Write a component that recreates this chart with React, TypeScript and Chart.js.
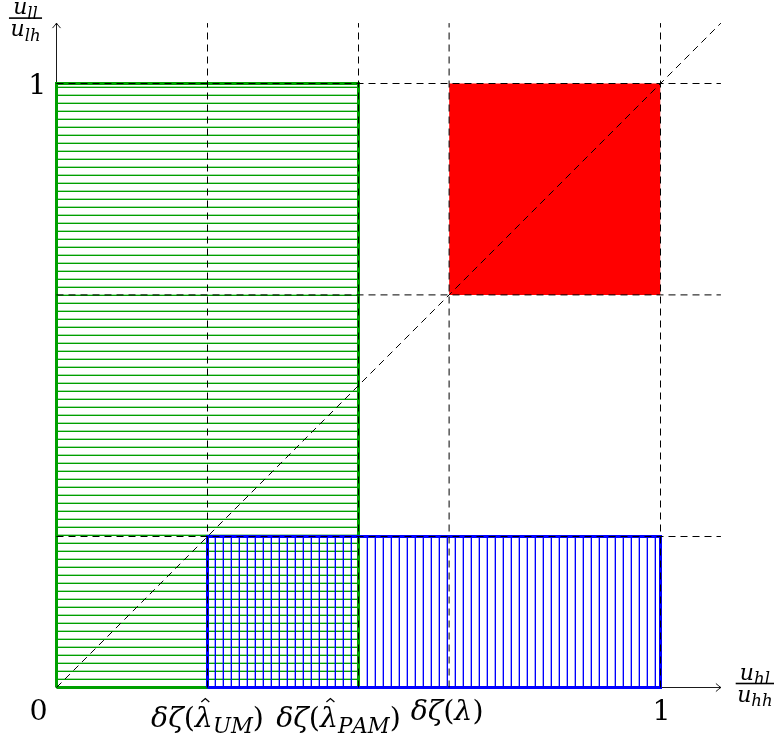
import React, { useEffect, useRef } from "react";
import { Chart, registerables } from "chart.js";

Chart.register(...registerables);

// ---- data ----
const X_MAX = 1.1;
const Y_MAX = 1.1;
const xGuides = [0.25, 0.5, 0.65, 1];
const yGuides = [0.25, 0.65, 1];
const diagonalX = [0, 1.1];
const diagonalY = [0, 1.1];
const greenX = [0, 0.5];
const greenY = [0, 1];
const blueX = [0.25, 1];
const blueY = [0, 0.25];
const redX = [0.65, 1];
const redY = [0.65, 1];
const xTickValues = [0, 0.25, 0.5, 0.65, 1];
const xTickLabels = ["0", "δζ(λ\u0302_UM)", "δζ(λ\u0302_PAM)", "δζ(λ)", "1"];
const yTickValues = [1];
const yTickLabels = ["1"];
const xTitle = ["u_hl", "u_hh"];
const yTitle = ["u_ll", "u_lh"];

// ---- style ----
const GREEN = "#00a000";
const BLUE = "#0000ff";
const RED = "#ff0000";
const FONT = "'DejaVu Serif', 'Liberation Serif', serif";
const BIG = 28.5;
const SMALL = 22;
const SUB = 0.75;
const xTickDx = [-18, 0, -20, -2, 1];

type Run = { text: string; italic: boolean; sub: boolean; hat: boolean };

function parse(s: string): Run[] {
  const runs: Run[] = [];
  let sub = false;
  for (let i = 0; i < s.length; i++) {
    const c = s[i];
    if (c === "_") {
      sub = true;
      continue;
    }
    if (c === "\u0302") {
      if (runs.length) runs[runs.length - 1].hat = true;
      continue;
    }
    const letter = /[A-Za-z\u0370-\u03ff]/.test(c);
    if (!letter) sub = false;
    runs.push({ text: c, italic: letter, sub, hat: false });
  }
  return runs;
}

function fontFor(r: Run, size: number) {
  const sz = r.sub ? size * SUB : size;
  return `${r.italic ? "italic " : ""}${sz}px ${FONT}`;
}

function measure(ctx: CanvasRenderingContext2D, runs: Run[], size: number) {
  let w = 0;
  for (const r of runs) {
    ctx.font = fontFor(r, size);
    w += ctx.measureText(r.text).width;
  }
  return w;
}

function drawRuns(
  ctx: CanvasRenderingContext2D,
  runs: Run[],
  left: number,
  baseline: number,
  size: number
) {
  let x = left;
  ctx.textAlign = "left";
  ctx.textBaseline = "alphabetic";
  for (const r of runs) {
    ctx.font = fontFor(r, size);
    const w = ctx.measureText(r.text).width;
    const by = r.sub ? baseline + size * 0.22 : baseline;
    ctx.fillText(r.text, x, by);
    if (r.hat) {
      const cx = x + w * 0.58;
      const top = by - size * 0.98;
      ctx.save();
      ctx.lineWidth = 1.3;
      ctx.strokeStyle = "#000";
      ctx.beginPath();
      ctx.moveTo(cx - size * 0.14, top + size * 0.12);
      ctx.lineTo(cx, top);
      ctx.lineTo(cx + size * 0.14, top + size * 0.12);
      ctx.stroke();
      ctx.restore();
    }
    x += w;
  }
}

function drawFraction(
  ctx: CanvasRenderingContext2D,
  num: string,
  den: string,
  cx: number,
  barY: number,
  size: number
) {
  const n = parse(num);
  const d = parse(den);
  const wn = measure(ctx, n, size);
  const wd = measure(ctx, d, size);
  const w = Math.max(wn, wd) + 3;
  ctx.fillStyle = "#000";
  ctx.fillRect(cx - w / 2, barY - 0.8, w, 1.6);
  drawRuns(ctx, n, cx - wn / 2, barY - 4, size);
  drawRuns(ctx, d, cx - wd / 2, barY + 18, size);
}

function arrow(ctx: CanvasRenderingContext2D, x: number, y: number, dir: "right" | "up") {
  ctx.save();
  ctx.translate(x, y);
  if (dir === "up") ctx.rotate(-Math.PI / 2);
  ctx.strokeStyle = "#000";
  ctx.lineWidth = 0.9;
  ctx.beginPath();
  ctx.moveTo(-5, -4);
  ctx.quadraticCurveTo(-1.5, -1, 0, 0);
  ctx.quadraticCurveTo(-1.5, 1, -5, 4);
  ctx.stroke();
  ctx.restore();
}

const annotations = {
  id: "annotations",
  afterDatasetsDraw(chart: any) {
    const { ctx } = chart;
    const xs = chart.scales.x;
    const ys = chart.scales.y;
    const x0 = xs.getPixelForValue(0);
    const y0 = ys.getPixelForValue(0);
    ctx.save();
    arrow(ctx, xs.getPixelForValue(X_MAX), y0, "right");
    arrow(ctx, x0, ys.getPixelForValue(Y_MAX), "up");
    ctx.fillStyle = "#000";
    xTickValues.forEach((v, i) => {
      const runs = parse(xTickLabels[i]);
      const w = measure(ctx, runs, BIG);
      const hasHat = runs.some((r) => r.hat);
      const cx = xs.getPixelForValue(v) + xTickDx[i];
      drawRuns(ctx, runs, cx - w / 2, y0 + 32 + (hasHat ? 7 : 0), BIG);
    });
    yTickValues.forEach((v, i) => {
      const runs = parse(yTickLabels[i]);
      const w = measure(ctx, runs, BIG);
      drawRuns(ctx, runs, x0 - 10 - w, ys.getPixelForValue(v) + 10, BIG);
    });
    drawFraction(ctx, yTitle[0], yTitle[1], x0 - 31, ys.getPixelForValue(Y_MAX) - 5, SMALL);
    drawFraction(ctx, xTitle[0], xTitle[1], xs.getPixelForValue(X_MAX) + 34, y0 - 4, SMALL);
    ctx.restore();
  },
};

function makePattern(ctx: CanvasRenderingContext2D, dir: "h" | "v", r: number, g: number, b: number) {
  const c = document.createElement("canvas");
  c.width = 8;
  c.height = 8;
  const t = c.getContext("2d")!;
  const img = t.createImageData(8, 8);
  for (let yy = 0; yy < 8; yy++) {
    for (let xx = 0; xx < 8; xx++) {
      const k = dir === "h" ? yy : xx;
      const a = k === 7 ? 255 : k === 6 ? 90 : 0;
      const o = (yy * 8 + xx) * 4;
      img.data[o] = r;
      img.data[o + 1] = g;
      img.data[o + 2] = b;
      img.data[o + 3] = a;
    }
  }
  t.putImageData(img, 0, 0);
  return ctx.createPattern(c, "repeat")!;
}

const pts = (xs: number[], ys: number[]) => xs.map((x, i) => ({ x, y: ys[i] }));
const rectPath = (xs: number[], ys: number[]) => [
  { x: xs[0], y: ys[0] },
  { x: xs[0], y: ys[1] },
  { x: xs[1], y: ys[1] },
  { x: xs[1], y: ys[0] },
  { x: xs[0], y: ys[0] },
];

export default function App() {
  const ref = useRef<HTMLCanvasElement>(null);
  useEffect(() => {
    document.body.style.margin = "0";
    const canvas = ref.current!;
    const ctx = canvas.getContext("2d")!;
    const base = { pointRadius: 0, clip: false as any, tension: 0 };
    const dashed = { borderColor: "#000", borderWidth: 1, borderDash: [7, 5], fill: false, order: 2 };
    const noLine = { borderWidth: 0.001, borderColor: "rgba(0,0,0,0)" };
    const datasets: any[] = [
      {
        ...base,
        ...noLine,
        data: pts(greenX, [greenY[1], greenY[1]]),
        fill: "origin",
        backgroundColor: makePattern(ctx, "h", 0, 160, 0),
        order: 10,
      },
      {
        ...base,
        ...noLine,
        data: pts(blueX, [blueY[1], blueY[1]]),
        fill: "origin",
        backgroundColor: makePattern(ctx, "v", 0, 0, 255),
        order: 9,
      },
      {
        ...base,
        ...noLine,
        data: pts(redX, [redY[1], redY[1]]),
        fill: { value: redY[0] },
        backgroundColor: RED,
        order: 8,
      },
      { ...base, data: pts([0, X_MAX], [0, 0]), borderColor: "#000", borderWidth: 0.9, fill: false, order: 7 },
      { ...base, data: pts([0, 0], [0, Y_MAX]), borderColor: "#000", borderWidth: 0.9, fill: false, order: 7 },
      {
        ...base,
        data: rectPath(greenX, greenY),
        borderColor: GREEN,
        borderWidth: 3,
        borderJoinStyle: "miter",
        fill: false,
        order: 6,
      },
      {
        ...base,
        data: rectPath(blueX, blueY),
        borderColor: BLUE,
        borderWidth: 3,
        borderJoinStyle: "miter",
        fill: false,
        order: 5,
      },
      ...xGuides.map((g) => ({ ...base, ...dashed, data: pts([g, g], [0, Y_MAX]) })),
      ...yGuides.map((g) => ({ ...base, ...dashed, data: pts([0, X_MAX], [g, g]) })),
      { ...base, ...dashed, data: pts(diagonalX, diagonalY) },
    ];
    const chart = new Chart(canvas, {
      type: "line",
      data: { datasets },
      options: {
        animation: false,
        responsive: false,
        maintainAspectRatio: false,
        layout: { padding: { left: 56.5, right: 53.1, top: 23.1, bottom: 57.5 } },
        scales: {
          x: { type: "linear", min: 0, max: X_MAX, display: false },
          y: { type: "linear", min: 0, max: Y_MAX, display: false },
        },
        plugins: { legend: { display: false }, tooltip: { enabled: false } },
        elements: { line: { tension: 0 } },
      },
      plugins: [annotations],
    });
    return () => chart.destroy();
  }, []);
  return (
    <div style={{ position: "absolute", left: 0, top: 0, width: 774, height: 745, background: "#fff" }}>
      <canvas ref={ref} width={774} height={745} />
    </div>
  );
}
